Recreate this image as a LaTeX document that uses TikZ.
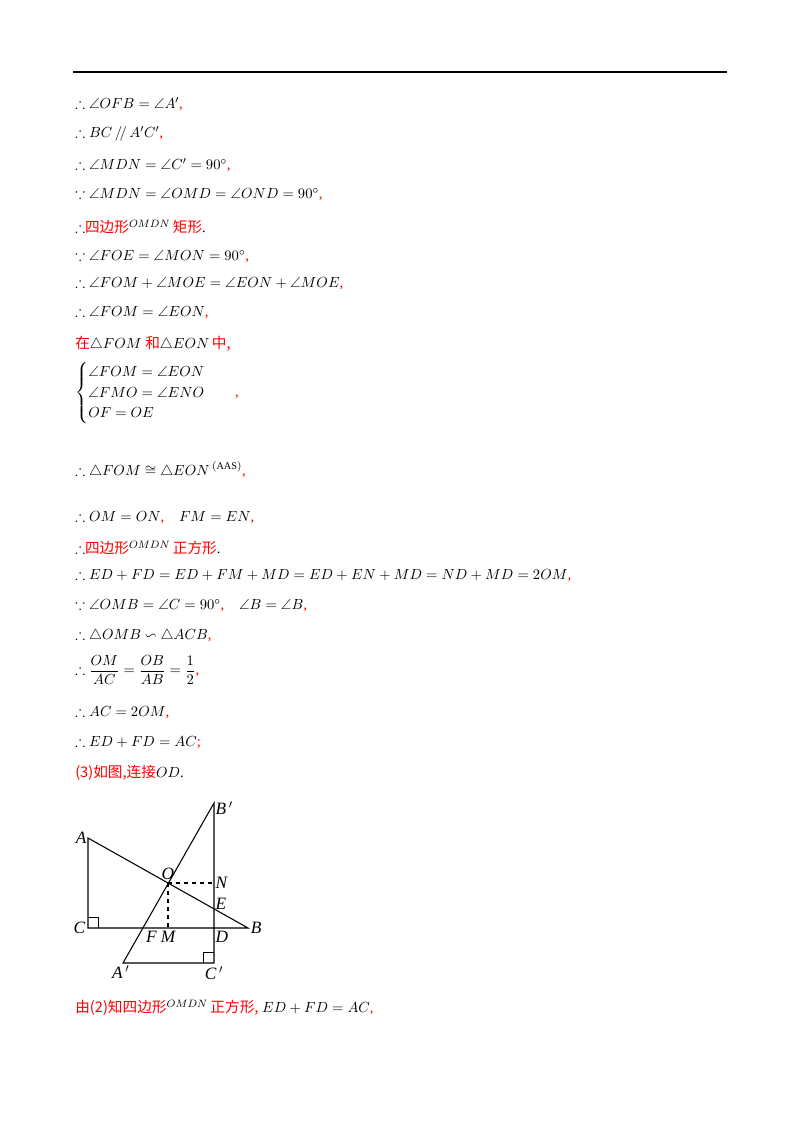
\documentclass[tikz,border=0pt]{standalone}
\usepackage{amsmath,amssymb}
\usepackage{fontspec}
\setmainfont{Liberation Serif}
\newfontfamily\cjk{Noto Sans CJK SC}
\usetikzlibrary{positioning}
\newcommand{\hong}[1]{\textcolor{red}{#1}}
\newcommand{\zh}[1]{\textcolor{red}{\cjk #1}}
\begin{document}
\begin{tikzpicture}[x=0.75pt, y=-0.75pt,
  line/.style={anchor=west, inner sep=0pt, font=\fontsize{11}{13}\selectfont},
  seg/.style={line width=0.8pt},
  aux/.style={line width=0.8pt, dashed},
  lab/.style={inner sep=1pt, font=\fontsize{13}{15}\selectfont\itshape}]
  \useasboundingbox (0,0) rectangle (800,1132);
  \draw[line width=0.8pt] (73,72) -- (727,72);
  % reasoning lines
  \node[line] (l1) at (75,104) {$\therefore \angle OFB=\angle A'$\hong{,}};
  \node[line] (l2) at (75,134) {$\therefore BC\,/\!/\,A'C'$\hong{,}};
  \node[line] (l3) at (75,165) {$\therefore \angle MDN=\angle C'=90^\circ$\hong{,}};
  \node[line] (l4) at (75,195) {$\because \angle MDN=\angle OMD=\angle OND=90^\circ$\hong{,}};
  \node[line] (l5) at (75,227) {$\therefore$\zh{四边形}$^{OMDN}$\,\zh{矩形}.};
  \node[line] (l6) at (75,257) {$\because \angle FOE=\angle MON=90^\circ$\hong{,}};
  \node[line] (l7) at (75,284) {$\therefore \angle FOM+\angle MOE=\angle EON+\angle MOE$\hong{,}};
  \node[line] (l8) at (75,313) {$\therefore \angle FOM=\angle EON$\hong{,}};
  \node[line] (l9) at (75,344) {\zh{在}$\triangle FOM$ \zh{和}$\triangle EON$\,\zh{中,}};
  \node[line] (l10) at (75,393) {$\begin{cases}\angle FOM=\angle EON\\ \angle FMO=\angle ENO\\ OF=OE\end{cases}$\quad\hong{,}};
  \node[line] (l11) at (75,470) {$\therefore \triangle FOM\cong\triangle EON\,^{(\mathrm{AAS})}$\hong{,}};
  \node[line] (l12) at (75,518) {$\therefore OM=ON$\hong{,}\quad$FM=EN$\hong{,}};
  \node[line] (l13) at (75,548) {$\therefore$\zh{四边形}$^{OMDN}$\,\zh{正方形}.};
  \node[line] (l14) at (75,576) {$\therefore ED+FD=ED+FM+MD=ED+EN+MD=ND+MD=2OM$\hong{,}};
  \node[line] (l15) at (75,606) {$\because \angle OMB=\angle C=90^\circ$\hong{,}\quad$\angle B=\angle B$\hong{,}};
  \node[line] (l16) at (75,636) {$\therefore \triangle OMB\backsim\triangle ACB$\hong{,}};
  \node[line] (l17) at (75,670) {$\therefore \dfrac{OM}{AC}=\dfrac{OB}{AB}=\dfrac{1}{2}$\hong{,}};
  \node[line] (l18) at (75,713) {$\therefore AC=2OM$\hong{,}};
  \node[line] (l19) at (75,743) {$\therefore ED+FD=AC$\hong{;}};
  \node[line] (l20) at (75,773) {\zh{(3)如图,连接}$OD$.};
  % figure
  \coordinate (A) at (88,838);
  \coordinate (C) at (88,928);
  \coordinate (B) at (248,928);
  \coordinate (B1) at (214,803);
  \coordinate (C1) at (214,963);
  \coordinate (A1) at (123,963);
  \coordinate (O) at (168,883);
  \coordinate (N) at (214,883);
  \coordinate (M) at (168,928);
  \coordinate (D) at (214,928);
  \coordinate (E) at (214,908);
  \coordinate (F) at (142,928);
  \draw[seg] (A) -- (C) -- (B) -- cycle;
  \draw[seg] (B1) -- (C1) -- (A1) -- cycle;
  \draw[aux] (O) -- (N);
  \draw[aux] (O) -- (M);
  \draw[line width=0.6pt] ([yshift=8]C) -| ([xshift=8]C);
  \draw[line width=0.6pt] ([yshift=8]C1) -| ([xshift=-8]C1);
  \node[lab, left] at (A) {A};
  \node[lab, left] at ([xshift=-1]C) {C};
  \node[lab, right] at ([xshift=1]B) {B};
  \node[lab, right] at ([yshift=-4]B1) {B$\,'$};
  \node[lab, below] at ([yshift=-2]C1) {C$\,'$};
  \node[lab, below left] at ([xshift=6,yshift=-1]A1) {A$\,'$};
  \node[lab, above] at ([yshift=1]O) {O};
  \node[lab, right] at (N) {N};
  \node[lab, above right] at ([yshift=-2]E) {E};
  \node[lab, below right] at ([yshift=-1]D) {D};
  \node[lab, below] at ([yshift=-1]M) {M};
  \node[lab, below] at ([xshift=7,yshift=-1]F) {F};
  \node[line] (l21) at (75,1008) {\zh{由(2)知四边形}$^{OMDN}$\,\zh{正方形,}\ $ED+FD=AC$\hong{,}};
\end{tikzpicture}
\end{document}
